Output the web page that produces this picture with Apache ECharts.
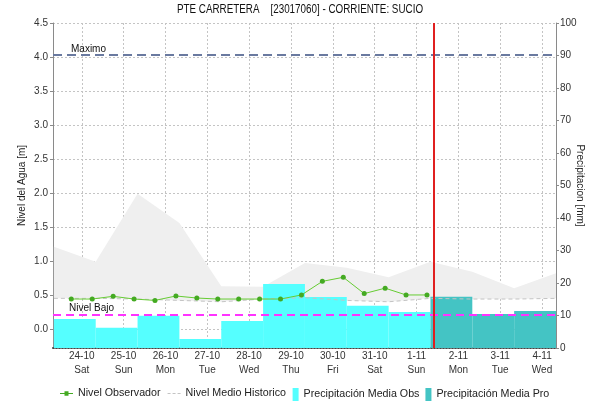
<!DOCTYPE html>
<html>
<head>
<meta charset="utf-8">
<script src="https://cdn.jsdelivr.net/npm/echarts@6/dist/echarts.min.js"></script>
<style>
html,body{margin:0;padding:0;background:#fff}
#chart{width:590px;height:402px}
</style>
</head>
<body>
<div id="chart"></div>
<script>
// Station and chart text
const chartTitle = 'PTE CARRETERA    [23017060] - CORRIENTE: SUCIO';

// Day ticks along the time axis
const dayTicks = ['2020-10-24','2020-10-25','2020-10-26','2020-10-27','2020-10-28','2020-10-29',
                  '2020-10-30','2020-10-31','2020-11-01','2020-11-02','2020-11-03','2020-11-04'];
const dayLabels = ['24-10','25-10','26-10','27-10','28-10','29-10','30-10','31-10','1-11','2-11','3-11','4-11'];
const weekdayLabels = ['Sat','Sun','Mon','Tue','Wed','Thu','Fri','Sat','Sun','Mon','Tue','Wed'];
const xStart = '2020-10-23 07:30';
const xEnd = '2020-11-04 08:00';

// Observed water level (m), readings at 06:00 and 18:00
const levelTimes = ['2020-10-23 18:00','2020-10-24 06:00','2020-10-24 18:00','2020-10-25 06:00','2020-10-25 18:00',
                    '2020-10-26 06:00','2020-10-26 18:00','2020-10-27 06:00','2020-10-27 18:00','2020-10-28 06:00',
                    '2020-10-28 18:00','2020-10-29 06:00','2020-10-29 18:00','2020-10-30 06:00','2020-10-30 18:00',
                    '2020-10-31 06:00','2020-10-31 18:00','2020-11-01 06:00'];
const levelValues = [0.44,0.44,0.48,0.44,0.42,0.485,0.455,0.44,0.44,0.44,0.44,0.50,0.70,0.76,0.52,0.60,0.50,0.50];

// Historic level: mean line and upper envelope (m), daily at 08:00
const histTimes = ['2020-10-23 08:00','2020-10-24 08:00','2020-10-25 08:00','2020-10-26 08:00','2020-10-27 08:00',
                   '2020-10-28 08:00','2020-10-29 08:00','2020-10-30 08:00','2020-10-31 08:00','2020-11-01 08:00',
                   '2020-11-02 08:00','2020-11-03 08:00','2020-11-04 08:00'];
const histUpper = [1.21,0.99,1.99,1.56,0.63,0.62,0.97,0.90,0.76,0.99,0.84,0.60,0.82];
const histMean  = [0.45,0.45,0.44,0.42,0.40,0.44,0.46,0.42,0.40,0.45,0.44,0.44,0.45];

// Daily precipitation (mm), 08:00 to 08:00
const obsBounds = ['2020-10-23 08:00','2020-10-24 08:00','2020-10-25 08:00','2020-10-26 08:00','2020-10-27 08:00',
                   '2020-10-28 08:00','2020-10-29 08:00','2020-10-30 08:00','2020-10-31 08:00','2020-11-01 08:00'];
const obsRain = [8.9,6.2,9.9,2.8,8.3,19.7,15.7,13.0,11.1];
const proBounds = ['2020-11-01 08:00','2020-11-02 08:00','2020-11-03 08:00','2020-11-04 08:00'];
const proRain = [15.8,10.5,11.4];

// Reference levels and forecast start
const levelMaximo = 4.03;
const levelBajo = 0.21;
const forecastTime = '2020-11-01 10:00';

// Axis ticks
const levelTicks = [0,0.5,1.0,1.5,2.0,2.5,3.0,3.5,4.0,4.5];
const levelMin = -0.28, levelMax = 4.5;
const rainMin = 0, rainMax = 100, rainStep = 10;

// Hours since 24-10 00:00
const T0 = Date.UTC(2020, 9, 24);
function hr(s) {
  const parts = s.split(' ');
  const d = parts[0].split('-').map(Number);
  const t = (parts[1] || '00:00').split(':').map(Number);
  return (Date.UTC(d[0], d[1] - 1, d[2], t[0], t[1]) - T0) / 3600000;
}
const dayHours = dayTicks.map(hr);

const FONT = 'Liberation Sans, Arial, Helvetica, sans-serif';
const RECT_ICON = 'path://M0,0h6v13h-6z';
const LINE_DOT_ICON = 'path://M0,6h13v1.2h-13z M4.5,4.3h4v4.6h-4z';
const DASH_ICON = 'path://M0,6h3v1h-3z M5,6h3v1h-3z M10,6h3v1h-3z';

function rainBars(name, bounds, values, color) {
  return {
    type: 'custom',
    name: name,
    yAxisIndex: 1,
    z: 2,
    silent: true,
    itemStyle: { color: color },
    encode: { x: [0, 1], y: 2 },
    data: values.map((v, i) => [hr(bounds[i]), hr(bounds[i + 1]), v]),
    renderItem: function (params, api) {
      const p0 = api.coord([api.value(0), api.value(2)]);
      const p1 = api.coord([api.value(1), 0]);
      return {
        type: 'rect',
        shape: { x: p0[0], y: p0[1], width: p1[0] - p0[0], height: p1[1] - p0[1] },
        style: { fill: color }
      };
    }
  };
}

const chart = echarts.init(document.getElementById('chart'), null, { renderer: 'canvas' });

chart.setOption({
  animation: false,
  backgroundColor: '#fff',
  textStyle: { fontFamily: FONT },
  graphic: [
    {
      // chart title, set in a slightly condensed face
      type: 'text',
      x: 300,
      y: 4,
      scaleX: 0.82,
      style: {
        text: chartTitle,
        fill: '#111',
        font: '12px ' + FONT,
        textAlign: 'center',
        textVerticalAlign: 'top'
      }
    }
  ],
  legend: [
    {
      left: 55,
      top: 383,
      itemGap: 7,
      itemWidth: 13,
      itemHeight: 13,
      textStyle: { fontSize: 10.7, color: '#222', fontFamily: FONT },
      data: [
        { name: 'Nivel Observador', icon: LINE_DOT_ICON },
        { name: 'Nivel Medio Historico', icon: DASH_ICON }
      ]
    },
    {
      left: 287.6,
      top: 383,
      itemGap: 6,
      itemWidth: 6,
      itemHeight: 13,
      textStyle: { fontSize: 10.7, color: '#222', fontFamily: FONT },
      data: [
        { name: 'Precipitación Media Obs', icon: RECT_ICON },
        { name: 'Precipitación Media Pro', icon: RECT_ICON }
      ]
    }
  ],
  grid: { left: 53, right: 34, top: 23, bottom: 54, containLabel: false, outerBoundsMode: 'none' },
  xAxis: {
    type: 'value',
    min: hr(xStart),
    max: hr(xEnd),
    axisLine: { onZero: false, lineStyle: { color: '#444', type: [1, 2], width: 2 } },
    axisTick: { show: false, customValues: dayHours },
    axisLabel: {
      customValues: dayHours,
      fontSize: 10,
      color: '#333',
      lineHeight: 14,
      margin: 1,
      formatter: function (v) {
        const i = Math.round(v / 24);
        return dayLabels[i] + '\n' + weekdayLabels[i];
      }
    },
    splitLine: { show: true, lineStyle: { color: '#c4c4c4', type: [2, 2] } }
  },
  yAxis: [
    {
      type: 'value',
      position: 'left',
      min: levelMin,
      max: levelMax,
      name: 'Nivel del Agua [m]',
      nameLocation: 'middle',
      nameRotate: 90,
      nameGap: 26,
      nameMoveOverlap: false,
      nameTextStyle: { fontSize: 10, color: '#222' },
      axisLine: { show: true, onZero: false, lineStyle: { color: '#8a8a8a' } },
      axisTick: { show: true, length: 3, customValues: levelTicks, lineStyle: { color: '#8a8a8a' } },
      axisLabel: {
        customValues: levelTicks,
        fontSize: 10,
        color: '#333',
        margin: 5,
        formatter: function (v) { return v.toFixed(1); }
      },
      splitLine: { show: true, lineStyle: { color: '#c4c4c4', type: [2, 2] } }
    },
    {
      type: 'value',
      position: 'right',
      min: rainMin,
      max: rainMax,
      interval: rainStep,
      name: 'Precipitacion [mm]',
      nameLocation: 'middle',
      nameRotate: -90,
      nameGap: 19,
      nameMoveOverlap: false,
      nameTextStyle: { fontSize: 10, color: '#222' },
      axisLine: { show: true, onZero: false, lineStyle: { color: '#8a8a8a' } },
      axisTick: { show: true, length: 3, lineStyle: { color: '#8a8a8a' } },
      axisLabel: { fontSize: 10, color: '#333', margin: 4 },
      splitLine: { show: false }
    }
  ],
  series: [
    {
      // historic envelope between the mean line and the upper bound
      type: 'custom',
      name: 'historic-envelope',
      silent: true,
      z: 1,
      data: [[hr(histTimes[0]), histMean[0]]],
      encode: { x: 0, y: 1 },
      renderItem: function (params, api) {
        const pts = [];
        for (let i = 0; i < histTimes.length; i++) pts.push(api.coord([hr(histTimes[i]), histUpper[i]]));
        for (let i = histTimes.length - 1; i >= 0; i--) pts.push(api.coord([hr(histTimes[i]), histMean[i]]));
        return { type: 'polygon', shape: { points: pts }, style: { fill: '#efefef' } };
      }
    },
    rainBars('Precipitación Media Obs', obsBounds, obsRain, '#55ffff'),
    rainBars('Precipitación Media Pro', proBounds, proRain, '#44c4c4'),
    {
      type: 'line',
      name: 'Nivel Medio Historico',
      z: 3,
      symbol: 'none',
      silent: true,
      lineStyle: { color: '#c4c4c4', type: [4, 3], width: 1 },
      itemStyle: { color: '#c4c4c4' },
      data: histTimes.map((t, i) => [hr(t), histMean[i]])
    },
    {
      type: 'line',
      name: 'Nivel Observador',
      z: 5,
      symbol: 'circle',
      symbolSize: 5,
      lineStyle: { color: '#66cc33', width: 1 },
      itemStyle: { color: '#44aa22' },
      data: levelTimes.map((t, i) => [hr(t), levelValues[i]]),
      markLine: {
        silent: true,
        symbol: 'none',
        animation: false,
        data: [
          {
            yAxis: levelMaximo,
            lineStyle: { color: '#6a7aa0', type: [9, 5], width: 2 },
            label: { show: true, position: 'insideStartTop', formatter: 'Maximo', color: '#111', fontSize: 10, distance: [18, 1] }
          },
          {
            yAxis: levelBajo,
            lineStyle: { color: '#ff33ff', type: [8, 5], width: 2 },
            label: { show: true, position: 'insideStartTop', formatter: 'Nivel Bajo', color: '#111', fontSize: 10, distance: [16, 1] }
          },
          {
            xAxis: hr(forecastTime),
            lineStyle: { color: '#e02020', type: 'solid', width: 2 },
            label: { show: false }
          }
        ]
      }
    }
  ]
});
</script>
</body>
</html>
